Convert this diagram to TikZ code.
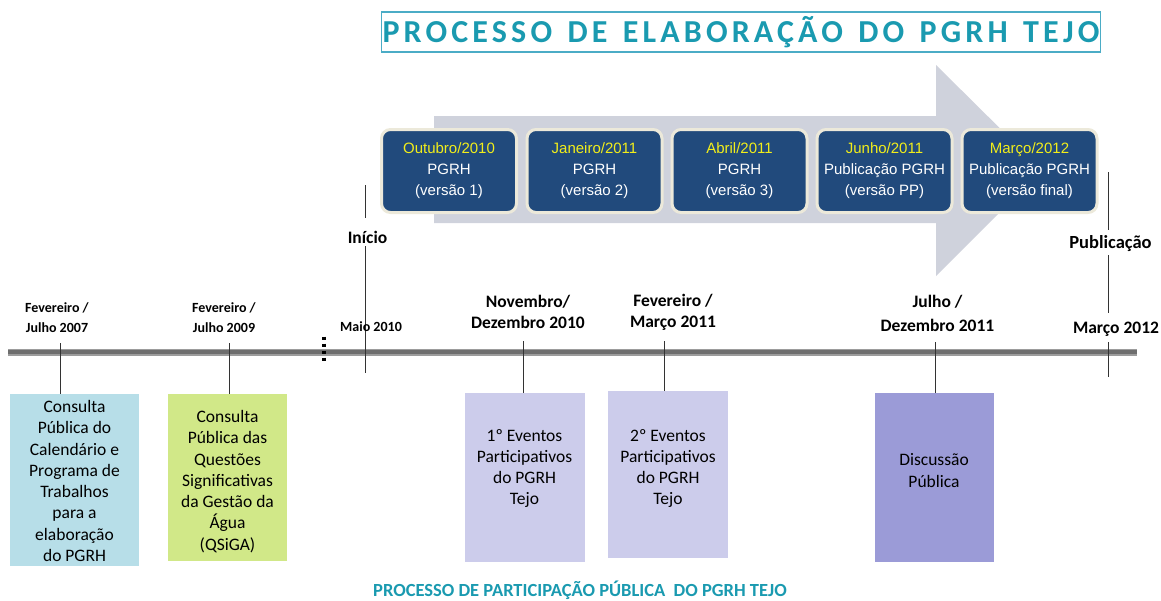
\documentclass[tikz,border=0pt]{standalone}
\usepackage{fontspec}
\setmainfont{Carlito}
\newfontfamily\arialf{Liberation Sans}
\definecolor{tealt}{HTML}{1A9AB0}
\definecolor{tealb}{HTML}{4BACC6}
\definecolor{navy}{HTML}{214A7C}
\definecolor{cream}{HTML}{ECE9DA}
\definecolor{arrowg}{HTML}{CFD2DC}
\definecolor{yel}{HTML}{F2EE1A}
\definecolor{tlcore}{HTML}{6E6E6E}
\definecolor{tledge}{HTML}{9C9C9C}
\definecolor{boxa}{HTML}{B7DEE8}
\definecolor{boxb}{HTML}{D1E888}
\definecolor{boxc}{HTML}{CCCCEB}
\definecolor{boxe}{HTML}{9B9BD7}
\tikzset{
  vbox/.style={draw=cream, line width=3pt, fill=navy, rounded corners=9pt,
    minimum width=135pt, minimum height=83pt, inner sep=0pt, align=center,
    text=white, font=\arialf\fontsize{15}{21}\selectfont},
  pbox/.style={inner sep=0pt, minimum width=#1},
  ptext/.style={align=center, inner sep=0pt, font=\fontsize{17.5}{21.3}\selectfont},
  smalllab/.style={align=center, inner sep=0pt, font=\bfseries\fontsize{14}{19.5}\selectfont},
  biglab/.style={align=center, inner sep=0pt, font=\bfseries\fontsize{17.5}{21}\selectfont},
  tick/.style={draw=black!80, line width=0.9pt},
}
\begin{document}
\begin{tikzpicture}[x=1pt,y=-1pt]
\useasboundingbox (0,0) rectangle (1161,600);

% title
\node[draw=tealb, line width=1.3pt, minimum width=719pt, minimum height=40pt, inner sep=0pt,
      text=tealt, font=\bfseries\fontsize{32}{32}\selectfont\addfontfeature{LetterSpace=13}]
  (title) at (741,32) {PROCESSO\hspace{4pt} DE\hspace{4pt} ELABORAÇÃO\hspace{4pt} DO\hspace{4pt} PGRH\hspace{4pt} TEJO};

% big arrow
\fill[arrowg] (434,116) -- (936,116) -- (936,65) -- (1042,170) -- (936,276) -- (936,223) -- (434,223) -- cycle;

% version boxes
\node[vbox] (v1) at (449,171) {\textcolor{yel}{Outubro/2010}\\PGRH\\(versão 1)};
\node[vbox] (v2) at (594.5,171) {\textcolor{yel}{Janeiro/2011}\\PGRH\\(versão 2)};
\node[vbox] (v3) at (739.5,171) {\textcolor{yel}{Abril/2011}\\PGRH\\(versão 3)};
\node[vbox] (v4) at (884.5,171) {\textcolor{yel}{Junho/2011}\\Publicação PGRH\\(versão PP)};
\node[vbox] (v5) at (1029.5,171) {\textcolor{yel}{Março/2012}\\Publicação PGRH\\(versão final)};

% timeline
\coordinate (tlL) at (8,352);
\coordinate (tlR) at (1137,352);
\draw[tledge, line width=7pt] (tlL) -- (tlR);
\draw[tlcore, line width=4pt] (tlL) -- (tlR);

% dotted marker
\coordinate (dotA) at (324,336.5);
\coordinate (dotB) at (324,362);
\draw[black, line width=3.5pt, dash pattern=on 3.5pt off 3.5pt] (dotA) -- (dotB);

% participation boxes
\node[pbox=129pt, minimum height=172pt, fill=boxa] (bA) at (74.5,480) {};
\node[pbox=119pt, minimum height=167pt, fill=boxb] (bB) at (227.5,477.5) {};
\node[pbox=120pt, minimum height=169pt, fill=boxc] (bC) at (524.5,477.5) {};
\node[pbox=120pt, minimum height=167pt, fill=boxc] (bD) at (668,474.5) {};
\node[pbox=119pt, minimum height=169pt, fill=boxe] (bE) at (934,477.5) {};

\node[ptext] (tA) at (74.5,481) {Consulta\\Pública do\\Calendário e\\Programa de\\Trabalhos\\para a\\elaboração\\do PGRH};
\node[ptext] (tB) at (227.5,481.5) {Consulta\\Pública das\\Questões\\Significativas\\da Gestão da\\Água\\(QSiGA)};
\node[ptext] (tC) at (524.5,468.5) {1º Eventos\\Participativos\\do PGRH\\Tejo};
\node[ptext] (tD) at (668,468.5) {2º Eventos\\Participativos\\do PGRH\\Tejo};
\node[ptext] (tE) at (934,470.5) {Discussão\\Pública};

% ticks
\coordinate (k1) at (60,343);
\coordinate (k2) at (229,343);
\coordinate (k3) at (523.5,341);
\coordinate (k4) at (664.5,341);
\coordinate (k5) at (935,342);
\draw[tick] (k1) -- (k1 |- bA.north);
\draw[tick] (k2) -- (k2 |- bB.north);
\draw[tick] (k3) -- (k3 |- bC.north);
\draw[tick] (k4) -- (k4 |- bD.north);
\draw[tick] (k5) -- (k5 |- bE.north);

% inicio line
\coordinate (i1) at (365,185);
\coordinate (i2) at (365,218);
\coordinate (i3) at (365,246);
\coordinate (i4) at (365,373);
\draw[tick] (i1) -- (i2);
\draw[tick] (i3) -- (i4);

% publicacao line
\coordinate (p1) at (1108,172);
\coordinate (p2) at (1108,230);
\coordinate (p3) at (1108,255);
\coordinate (p4) at (1108,313);
\coordinate (p5) at (1108,342);
\coordinate (p6) at (1108,377);
\draw[tick] (p1) -- (p2);
\draw[tick] (p3) -- (p4);
\draw[tick] (p5) -- (p6);

% labels
\node[smalllab] (l1) at (57,317.5) {Fevereiro /\\Julho 2007};
\node[smalllab] (l2) at (224,317.5) {Fevereiro /\\Julho 2009};
\node[smalllab] (l3) at (371,327) {Maio 2010};
\node[biglab] (l4) at (528,312) {Novembro/\\Dezembro 2010};
\node[biglab] (l5) at (673,312) {Fevereiro /\\Março 2011};
\node[biglab, font=\bfseries\fontsize{17.5}{24}\selectfont] (l6) at (937.5,313.5) {Julho /\\Dezembro 2011};
\node[biglab] (l7) at (1116,329) {Março 2012};
\node[biglab] (l8) at (367.5,237) {Início};
\node[biglab, font=\bfseries\fontsize{18.5}{21}\selectfont] (l9) at (1110.5,244) {Publicação};

% bottom title
\node[inner sep=0pt, text=tealt, font=\bfseries\fontsize{18.5}{18.5}\selectfont] (btitle) at (580,590)
  {PROCESSO DE PARTICIPAÇÃO PÚBLICA\ \ DO PGRH TEJO};
\end{tikzpicture}
\end{document}
